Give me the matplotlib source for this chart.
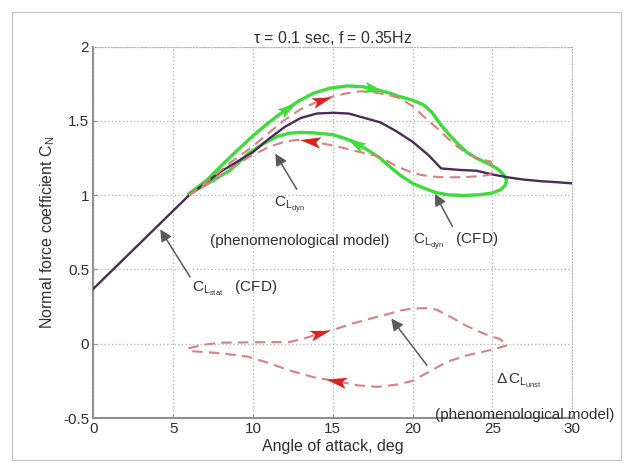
import numpy as np
import matplotlib
matplotlib.use("Agg")
import matplotlib.pyplot as plt
from matplotlib.patches import Rectangle
from matplotlib.path import Path

plt.rcParams['font.family'] = ['Liberation Sans', 'DejaVu Sans']
plt.rcParams['mathtext.fontset'] = 'custom'
plt.rcParams['mathtext.rm'] = 'Liberation Sans'
plt.rcParams['mathtext.it'] = 'Liberation Sans'

# static CL (CFD)
stat_x = [0, 4, 6, 8, 10, 11, 12, 13, 14, 15, 16, 17, 18, 19, 20, 21, 21.8, 23, 24, 25, 26, 27, 28, 29, 30]
stat_y = [0.37, 0.79, 1.0, 1.16, 1.29, 1.38, 1.46, 1.52, 1.55, 1.555, 1.55, 1.52, 1.49, 1.43, 1.36, 1.27, 1.18, 1.17, 1.165, 1.14, 1.12, 1.105, 1.095, 1.088, 1.08]

# dynamic CL (CFD) loop, upper and lower branches
cfd_up_x = [6.0, 7.1, 8.6, 10.0, 11.0, 11.9, 12.8, 13.8, 14.8, 15.9, 16.9, 17.8, 18.5, 19.2, 20.0, 20.7,
            21.2, 21.7, 22.2, 22.8, 23.4, 24.0, 24.7, 25.3, 25.7, 25.9]
cfd_up_y = [1.01, 1.10, 1.26, 1.40, 1.49, 1.563, 1.63, 1.687, 1.72, 1.736, 1.73, 1.709, 1.69, 1.664, 1.64, 1.608,
            1.56, 1.485, 1.42, 1.35, 1.29, 1.25, 1.215, 1.18, 1.14, 1.10]
cfd_lo_x = [6.0, 7.2, 8.6, 9.7, 10.7, 11.5, 12.3, 13.0, 13.8, 14.5, 15.05, 15.7, 16.3, 17.1, 17.9, 18.6, 19.2,
            20.0, 20.7, 21.4, 22.2, 23.2, 24.2, 25.0, 25.5, 25.8, 25.9]
cfd_lo_y = [1.01, 1.08, 1.17, 1.28, 1.35, 1.395, 1.418, 1.423, 1.42, 1.413, 1.406, 1.385, 1.36, 1.31, 1.255, 1.19, 1.137,
            1.08, 1.048, 1.02, 1.003, 0.998, 1.003, 1.015, 1.036, 1.065, 1.10]

# dynamic CL (phenomenological model) loop
phe_up_x = [6.0, 7.2, 8.6, 10.0, 11.0, 11.9, 13.0, 14.2, 15.0, 15.9, 16.8, 17.7, 18.5, 19.2, 20.0, 20.7, 21.5, 22.2,
            22.9, 23.6, 24.3, 24.9]
phe_up_y = [1.0, 1.10, 1.22, 1.33, 1.42, 1.50, 1.58, 1.637, 1.665, 1.687, 1.70, 1.69, 1.675, 1.653, 1.60, 1.53, 1.455,
            1.384, 1.32, 1.27, 1.24, 1.227]
phe_lo_x = [6.0, 7.2, 8.6, 9.8, 11.1, 12.0, 12.75, 13.8, 15.0, 16.0, 17.1, 17.8, 18.5, 19.1, 19.8, 20.5, 21.3, 22.2,
            23.3, 24.4, 24.9]
phe_lo_y = [1.0, 1.08, 1.18, 1.26, 1.33, 1.36, 1.373, 1.36, 1.335, 1.31, 1.28, 1.265, 1.225, 1.19, 1.16, 1.137, 1.125,
            1.12, 1.122, 1.13, 1.14]

# delta CL unsteady (phenomenological model) loop
dcl_up_x = [5.96, 7.0, 7.93, 10.1, 12.3, 13.2, 14.07, 15.2, 16.26, 17.4, 18.45, 19.3, 20.0, 20.8, 21.5, 22.4, 23.3,
            24.1, 24.8, 25.5, 25.95]
dcl_up_y = [-0.03, -0.005, 0.007, 0.01, 0.012, 0.035, 0.066, 0.10, 0.137, 0.17, 0.20, 0.225, 0.237, 0.24, 0.23, 0.18,
            0.125, 0.085, 0.055, 0.03, -0.01]
dcl_lo_x = [5.96, 6.17, 7.93, 9.7, 11.0, 12.3, 13.8, 15.4, 16.6, 17.8, 19.0, 20.0, 21.0, 22.2, 23.5, 25.0, 25.95]
dcl_lo_y = [-0.03, -0.05, -0.063, -0.087, -0.13, -0.18, -0.225, -0.256, -0.28, -0.29, -0.275, -0.25, -0.19, -0.12,
            -0.075, -0.04, -0.01]

xticks = [0, 5, 10, 15, 20, 25, 30]
yticks = [-0.5, 0, 0.5, 1, 1.5, 2]
ytick_labels = ['-0.5', '0', '0.5', '1', '1.5', '2']

green = '#3ddc3a'
purple = '#4b2b58'
pink = '#d98080'
red = '#e0201c'
txt = '#303030'


def head(ax, xs, ys, x0, color, forward=True, size=16):
    # notched arrowhead placed on the curve, turned along it in screen space
    y0 = np.interp(x0, xs, ys)
    y1 = np.interp(x0 + 0.3, xs, ys)
    p0 = ax.transData.transform((x0, y0))
    p1 = ax.transData.transform((x0 + 0.3, y1))
    ang = np.arctan2(p1[1] - p0[1], p1[0] - p0[0])
    if not forward:
        ang += np.pi
    c, s = np.cos(ang), np.sin(ang)
    pts = np.array([[1.0, 0.0], [-1.0, 0.55], [-0.55, 0.0], [-1.0, -0.55], [1.0, 0.0]])
    rot = np.column_stack([pts[:, 0] * c - pts[:, 1] * s, pts[:, 0] * s + pts[:, 1] * c])
    marker = Path(rot, [Path.MOVETO, Path.LINETO, Path.LINETO, Path.LINETO, Path.CLOSEPOLY])
    ax.plot([x0], [y0], marker=marker, markersize=size, color=color, markeredgewidth=0, zorder=6)


fig = plt.figure(figsize=(6.28, 4.65), dpi=100)
ax = fig.add_axes([0.1486, 0.101, 0.7624, 0.7986])
fig.patches.append(Rectangle((12 / 628, 5 / 465), 609 / 628, 448 / 465, transform=fig.transFigure,
                             fill=False, edgecolor='#c8c8c8', lw=1))

ax.set_xlim(0, 30)
ax.set_ylim(-0.5, 2)

ax.plot(cfd_up_x + cfd_lo_x[::-1], cfd_up_y + cfd_lo_y[::-1], color=green, lw=2.4,
        solid_joinstyle='round', solid_capstyle='round', zorder=3)
ax.plot(stat_x, stat_y, color=purple, lw=1.7, zorder=4)
ax.plot(phe_up_x + phe_lo_x[::-1], phe_up_y + phe_lo_y[::-1], color=pink, lw=1.5, dashes=(5, 3), zorder=5)
ax.plot(dcl_up_x + dcl_lo_x[::-1], dcl_up_y + dcl_lo_y[::-1], color=pink, lw=1.5, dashes=(5, 3), zorder=5)

head(ax, phe_up_x, phe_up_y, 14.3, red)
head(ax, phe_lo_x, phe_lo_y, 13.6, red, forward=False)
head(ax, dcl_up_x, dcl_up_y, 14.2, red)
head(ax, dcl_lo_x, dcl_lo_y, 15.2, red, forward=False)
head(ax, cfd_up_x, cfd_up_y, 12.2, green)
head(ax, cfd_up_x, cfd_up_y, 17.6, green)
head(ax, cfd_lo_x, cfd_lo_y, 16.4, green, forward=False)

# pointer arrows
pointers = [((4.19, 0.77), (6.06, 0.45)),
            ((11.4, 1.28), (12.75, 1.04)),
            ((21.4, 1.01), (22.5, 0.79)),
            ((18.67, 0.17), (20.9, -0.145))]
for tip, tail in pointers:
    ax.annotate('', xy=tip, xytext=tail,
                arrowprops=dict(arrowstyle='-|>,head_length=0.5,head_width=0.25', color='#5a5a5a', lw=1.1,
                                mutation_scale=14, shrinkA=0, shrinkB=0))

fs = 11
ax.text(6.2, 0.35, r'$\mathrm{C}_{\mathrm{L}_{\mathrm{stat}}}$   (CFD)', fontsize=fs, color=txt, va='baseline')
ax.text(11.35, 0.92, r'$\mathrm{C}_{\mathrm{L}_{\mathrm{dyn}}}$', fontsize=fs, color=txt, va='baseline')
ax.text(12.9, 0.69, '(phenomenological model)', fontsize=fs, color=txt, ha='center', va='center')
ax.text(20.0, 0.67, r'$\mathrm{C}_{\mathrm{L}_{\mathrm{dyn}}}$   (CFD)', fontsize=fs, color=txt, va='baseline')
ax.text(25.2, -0.27, r'$\Delta\,\mathrm{C}_{\mathrm{L}_{\mathrm{unst}}}$', fontsize=fs, color=txt, va='baseline')
ax.text(27.0, -0.48, '(phenomenological model)', fontsize=fs, color=txt, ha='center', va='center', clip_on=False)

ax.set_xticks(xticks)
ax.set_yticks(yticks)
ax.set_yticklabels(ytick_labels)
ax.grid(True, linestyle=':', color='#b8b8b8', lw=1)
ax.set_axisbelow(True)
for s in ['top', 'right']:
    ax.spines[s].set_linestyle(':')
    ax.spines[s].set_color('#b8b8b8')
for s in ['left', 'bottom']:
    ax.spines[s].set_color('#909090')
    ax.spines[s].set_linewidth(1.5)
ax.tick_params(direction='in', length=3, color='#909090', labelsize=fs, labelcolor=txt, pad=3)
ax.set_xlabel('Angle of attack, deg', fontsize=11.5, color=txt, labelpad=2)
ax.set_ylabel(r'Normal force coefficient $\mathrm{C}_{\mathrm{N}}$', fontsize=11.5, color=txt, labelpad=4)
ax.set_title(r'$\tau$ = 0.1 sec, f = 0.35Hz', fontsize=11.5, color=txt, pad=3)

fig.savefig('out.png', dpi=100)
